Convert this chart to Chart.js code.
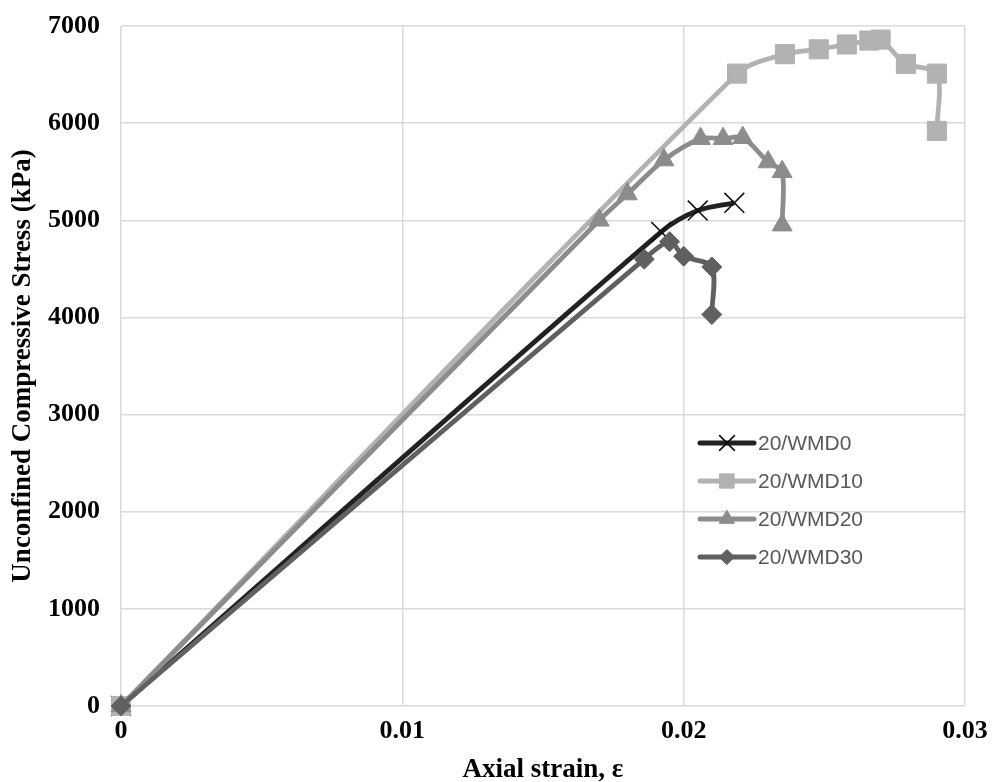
<!DOCTYPE html>
<html>
<head>
<meta charset="utf-8">
<script src="https://cdn.jsdelivr.net/npm/chart.js@4.4.1/dist/chart.umd.min.js"></script>
<style>
  html, body { margin: 0; padding: 0; background: #fff; }
  #wrap { width: 993px; height: 782px; }
</style>
</head>
<body>
<div id="wrap"><canvas id="ucsChart" width="993" height="782"></canvas></div>
<script>
/* Data */
const seriesNames = ['20/WMD0', '20/WMD10', '20/WMD20', '20/WMD30'];

const strainWMD0 = [0, 0.0192, 0.0205, 0.0218];
const stressWMD0 = [0, 4880, 5100, 5180];

const strainWMD10 = [0, 0.0219, 0.0236, 0.0248, 0.0258, 0.0266, 0.0270, 0.0279, 0.0290, 0.0290];
const stressWMD10 = [0, 6510, 6710, 6760, 6810, 6850, 6860, 6610, 6510, 5920];

const strainWMD20 = [0, 0.0170, 0.0180, 0.0193, 0.0206, 0.0214, 0.0221, 0.0230, 0.0235, 0.0235];
const stressWMD20 = [0, 5000, 5270, 5620, 5840, 5840, 5850, 5600, 5500, 4950];

const strainWMD30 = [0, 0.0186, 0.0195, 0.0200, 0.0210, 0.0210];
const stressWMD30 = [0, 4600, 4780, 4630, 4520, 4030];

const xTicks = [0, 0.01, 0.02, 0.03];
const yTicks = [0, 1000, 2000, 3000, 4000, 5000, 6000, 7000];

function toPoints(xs, ys) {
    return xs.map((x, i) => ({ x: x, y: ys[i] }));
}

const serif = "'Liberation Serif', 'Times New Roman', serif";

// legend drawn inside the plot, like the Excel original
const insideLegend = {
    id: 'insideLegend',
    afterDraw(chart) {
        const ctx = chart.ctx;
        const area = chart.chartArea;
        const x0 = area.left + 579;
        let y = area.top + 417;
        ctx.save();
        chart.data.datasets.forEach(ds => {
            ctx.strokeStyle = ds.borderColor;
            ctx.lineWidth = 5;
            ctx.lineCap = 'round';
            ctx.beginPath();
            ctx.moveTo(x0, y);
            ctx.lineTo(x0 + 54, y);
            ctx.stroke();
            ctx.fillStyle = ds.pointBackgroundColor;
            ctx.strokeStyle = ds.pointBorderColor;
            ctx.lineWidth = ds.pointBorderWidth;
            Chart.helpers.drawPoint(ctx, {
                pointStyle: ds.pointStyle,
                radius: ds.pointRadius * 0.75,
                borderWidth: ds.pointBorderWidth,
                rotation: 0
            }, x0 + 27, y);
            ctx.fillStyle = '#595959';
            ctx.font = "21px 'Liberation Sans', Arial, sans-serif";
            ctx.textBaseline = 'middle';
            ctx.fillText(ds.label, x0 + 58, y + 1);
            y += 38;
        });
        ctx.restore();
    }
};

const ctxUcs = document.getElementById('ucsChart').getContext('2d');
new Chart(ctxUcs, {
    type: 'line',
    data: {
        datasets: [
            {
                label: seriesNames[0],
                data: toPoints(strainWMD0, stressWMD0),
                borderColor: '#222222',
                borderWidth: 4.8,
                pointStyle: 'crossRot',
                pointRadius: 14,
                pointBorderColor: '#111111',
                pointBackgroundColor: '#111111',
                pointBorderWidth: 1.6,
                order: 4
            },
            {
                label: seriesNames[1],
                data: toPoints(strainWMD10, stressWMD10),
                borderColor: '#b2b2b2',
                borderWidth: 4.8,
                pointStyle: 'rect',
                pointRadius: 13.5,
                pointBorderColor: '#b2b2b2',
                pointBackgroundColor: '#b2b2b2',
                pointBorderWidth: 1,
                order: 3
            },
            {
                label: seriesNames[2],
                data: toPoints(strainWMD20, stressWMD20),
                borderColor: '#8c8c8c',
                borderWidth: 4.8,
                pointStyle: 'triangle',
                pointRadius: 11.5,
                pointBorderColor: '#8c8c8c',
                pointBackgroundColor: '#8c8c8c',
                pointBorderWidth: 1,
                order: 2
            },
            {
                label: seriesNames[3],
                data: toPoints(strainWMD30, stressWMD30),
                borderColor: '#606060',
                borderWidth: 4.8,
                pointStyle: 'rectRot',
                pointRadius: 10,
                pointBorderColor: '#606060',
                pointBackgroundColor: '#606060',
                pointBorderWidth: 1,
                order: 1
            }
        ]
    },
    options: {
        responsive: false,
        animation: false,
        clip: false,
        layout: { padding: { top: 26, right: 28, left: 0, bottom: 0 } },
        elements: {
            line: { tension: 0.3, fill: false, capBezierPoints: true },
            point: { hoverRadius: 10 }
        },
        plugins: {
            legend: { display: false },
            tooltip: { enabled: false }
        },
        scales: {
            x: {
                type: 'linear',
                min: 0,
                max: 0.03,
                afterFit: s => { s.height = 76; s.paddingLeft = 0; s.paddingRight = 0; },
                afterBuildTicks: s => { s.ticks = xTicks.map(v => ({ value: v })); },
                ticks: {
                    padding: 10,
                    color: '#000',
                    font: { family: serif, size: 26, weight: 'bold' },
                    callback: v => String(v)
                },
                grid: { color: '#d9d9d9', lineWidth: 1.5, drawTicks: false },
                border: { display: false },
                title: {
                    display: true,
                    text: 'Axial strain, ε',
                    color: '#000',
                    font: { family: serif, size: 27, weight: 'bold' },
                    padding: { top: 0, bottom: -4 }
                }
            },
            y: {
                type: 'linear',
                min: 0,
                max: 7000,
                afterFit: s => { s.width = 121; s.paddingTop = 0; s.paddingBottom = 0; },
                afterBuildTicks: s => { s.ticks = yTicks.map(v => ({ value: v })); },
                ticks: {
                    padding: 21,
                    color: '#000',
                    font: { family: serif, size: 26, weight: 'bold' },
                    callback: v => String(v)
                },
                grid: { color: '#d9d9d9', lineWidth: 1.5, drawTicks: false },
                border: { display: false },
                title: {
                    display: true,
                    text: 'Unconfined Compressive Stress (kPa)',
                    color: '#000',
                    font: { family: serif, size: 27, weight: 'bold' },
                    padding: { top: 7, bottom: 0 }
                }
            }
        }
    },
    plugins: [insideLegend]
});
</script>
</body>
</html>
